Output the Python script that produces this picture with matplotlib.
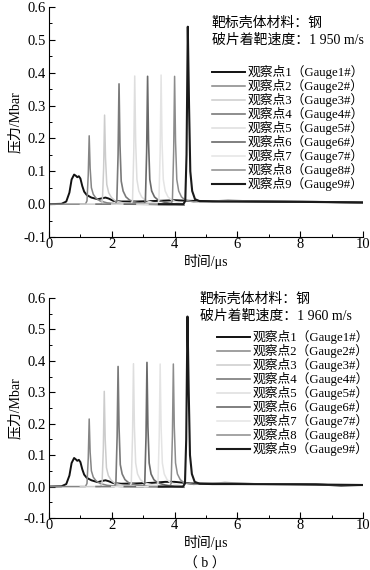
import numpy as np
import matplotlib
matplotlib.use("Agg")
import matplotlib.pyplot as plt
from matplotlib.ticker import MultipleLocator

plt.rcParams['font.family'] = ['Liberation Serif', 'Noto Sans CJK SC']
plt.rcParams['axes.unicode_minus'] = True

# ---------------- data ----------------
# panel (a): v = 1950 m/s
t1_a = [0, 0.4, 0.55, 0.65, 0.72, 0.80, 0.86, 0.90, 0.95, 1.00, 1.06, 1.12, 1.2, 1.35, 1.55, 1.7, 1.8, 1.9, 2.05, 2.3, 2.8, 3.5, 4.0, 4.5, 5.5, 7.0, 8.5, 10]
p1_a = [0, 0.001, 0.008, 0.035, 0.075, 0.09, 0.086, 0.082, 0.085, 0.078, 0.055, 0.038, 0.028, 0.02, 0.015, 0.018, 0.02, 0.017, 0.01, 0.008, 0.008, 0.01, 0.012, 0.01, 0.009, 0.008, 0.007, 0.005]
t2_a = [0, 1.16, 1.21, 1.25, 1.28, 1.31, 1.35, 1.41, 1.50, 1.62, 1.85, 2.3, 4.3]
p2_a = [0, 0, 0.01, 0.09, 0.208, 0.11, 0.05, 0.03, 0.018, 0.01, 0.004, 0.0, -0.002]
t3_a = [1.0, 1.65, 1.70, 1.74, 1.77, 1.80, 1.84, 1.90, 1.99, 2.11, 2.35, 2.8, 4.3]
p3_a = [0, 0, 0.01, 0.11, 0.271, 0.14, 0.06, 0.035, 0.02, 0.01, 0.004, 0.0, -0.002]
t4_a = [1.5, 2.11, 2.16, 2.20, 2.23, 2.26, 2.30, 2.36, 2.45, 2.57, 2.8, 3.2, 4.3]
p4_a = [0, 0, 0.01, 0.15, 0.366, 0.18, 0.07, 0.04, 0.022, 0.012, 0.005, 0.0, -0.002]
t5_a = [2.0, 2.61, 2.66, 2.70, 2.73, 2.76, 2.80, 2.86, 2.95, 3.07, 3.3, 3.7, 4.3]
p5_a = [0, 0, 0.01, 0.16, 0.39, 0.19, 0.075, 0.04, 0.022, 0.012, 0.005, 0.0, -0.002]
t6_a = [2.4, 3.02, 3.07, 3.11, 3.14, 3.17, 3.21, 3.27, 3.36, 3.48, 3.7, 4.0, 4.3]
p6_a = [0, 0, 0.01, 0.16, 0.389, 0.19, 0.075, 0.04, 0.022, 0.012, 0.005, 0.0, -0.002]
t7_a = [2.8, 3.45, 3.50, 3.54, 3.57, 3.60, 3.64, 3.70, 3.79, 3.91, 4.1, 4.3]
p7_a = [0, 0, 0.01, 0.16, 0.393, 0.19, 0.075, 0.04, 0.022, 0.012, 0.005, 0.0]
t8_a = [3.2, 3.88, 3.93, 3.97, 4.00, 4.03, 4.07, 4.13, 4.22, 4.34, 4.6, 5.2, 5.7, 6.5, 8.0, 10]
p8_a = [0, 0, 0.01, 0.16, 0.389, 0.19, 0.075, 0.04, 0.022, 0.012, 0.007, 0.009, 0.012, 0.009, 0.007, 0.004]
t9_a = [3.5, 4.28, 4.34, 4.38, 4.42, 4.46, 4.50, 4.56, 4.65, 4.8, 5.2, 6.0, 8.0, 10]
p9_a = [0, 0, 0.01, 0.15, 0.54, 0.3, 0.1, 0.04, 0.015, 0.009, 0.008, 0.008, 0.007, 0.005]

# panel (b): v = 1960 m/s
t1_b = [0, 0.4, 0.55, 0.65, 0.72, 0.80, 0.86, 0.90, 0.95, 1.00, 1.06, 1.12, 1.2, 1.35, 1.55, 1.7, 1.8, 1.9, 2.05, 2.3, 2.8, 3.3, 3.7, 4.0, 4.5, 5.5, 7.0, 8.5, 9.3, 10]
p1_b = [0, 0.001, 0.008, 0.035, 0.075, 0.091, 0.086, 0.082, 0.085, 0.078, 0.055, 0.038, 0.028, 0.02, 0.014, 0.018, 0.02, 0.017, 0.011, 0.009, 0.01, 0.012, 0.015, 0.015, 0.01, 0.009, 0.008, 0.007, 0.003, 0.005]
t2_b = [0, 1.16, 1.21, 1.25, 1.28, 1.31, 1.35, 1.41, 1.50, 1.62, 1.85, 2.3, 4.3]
p2_b = [0, 0, 0.01, 0.09, 0.215, 0.11, 0.05, 0.03, 0.018, 0.01, 0.004, 0.0, -0.002]
t3_b = [1.0, 1.64, 1.69, 1.73, 1.76, 1.79, 1.83, 1.89, 1.98, 2.10, 2.35, 2.8, 4.3]
p3_b = [0, 0, 0.01, 0.12, 0.303, 0.15, 0.06, 0.035, 0.02, 0.01, 0.004, 0.0, -0.002]
t4_b = [1.5, 2.08, 2.13, 2.17, 2.20, 2.23, 2.27, 2.33, 2.42, 2.54, 2.8, 3.2, 4.3]
p4_b = [0, 0, 0.01, 0.16, 0.382, 0.19, 0.07, 0.04, 0.022, 0.012, 0.005, 0.0, -0.002]
t5_b = [2.0, 2.57, 2.62, 2.66, 2.69, 2.72, 2.76, 2.82, 2.91, 3.03, 3.3, 3.7, 4.3]
p5_b = [0, 0, 0.01, 0.16, 0.391, 0.19, 0.075, 0.04, 0.022, 0.012, 0.005, 0.0, -0.002]
t6_b = [2.4, 3.00, 3.05, 3.09, 3.12, 3.15, 3.19, 3.25, 3.34, 3.46, 3.7, 4.0, 4.3]
p6_b = [0, 0, 0.01, 0.16, 0.395, 0.19, 0.075, 0.04, 0.022, 0.012, 0.005, 0.0, -0.002]
t7_b = [2.8, 3.42, 3.47, 3.51, 3.54, 3.57, 3.61, 3.67, 3.76, 3.88, 4.1, 4.3]
p7_b = [0, 0, 0.01, 0.16, 0.39, 0.19, 0.075, 0.04, 0.022, 0.012, 0.005, 0.0]
t8_b = [3.2, 3.84, 3.89, 3.93, 3.96, 3.99, 4.03, 4.09, 4.18, 4.30, 4.6, 5.2, 5.6, 6.5, 8.0, 10]
p8_b = [0, 0, 0.01, 0.16, 0.39, 0.19, 0.075, 0.04, 0.022, 0.012, 0.007, 0.01, 0.013, 0.009, 0.007, 0.004]
t9_b = [3.5, 4.27, 4.33, 4.37, 4.41, 4.45, 4.49, 4.55, 4.64, 4.8, 5.2, 6.0, 8.0, 10]
p9_b = [0, 0, 0.01, 0.15, 0.541, 0.3, 0.1, 0.04, 0.015, 0.009, 0.008, 0.008, 0.007, 0.005]

labels = ["观察点%d（Gauge%d#）" % (i, i) for i in range(1, 10)]
colors = ["#111111", "#858585", "#cccccc", "#7a7a7a", "#dedede", "#6a6a6a", "#e4e4e4", "#8c8c8c", "#1a1a1a"]
widths = [1.4, 1.1, 1.1, 1.2, 1.1, 1.2, 1.1, 1.1, 1.5]

curves_a = [(t1_a, p1_a), (t2_a, p2_a), (t3_a, p3_a), (t4_a, p4_a), (t5_a, p5_a),
            (t6_a, p6_a), (t7_a, p7_a), (t8_a, p8_a), (t9_a, p9_a)]
curves_b = [(t1_b, p1_b), (t2_b, p2_b), (t3_b, p3_b), (t4_b, p4_b), (t5_b, p5_b),
            (t6_b, p6_b), (t7_b, p7_b), (t8_b, p8_b), (t9_b, p9_b)]

W, H = 370, 570
fig = plt.figure(figsize=(W / 100, H / 100), dpi=100)

def fx(px):
    return px / W

def fy(py):
    return 1 - py / H

ax1 = fig.add_axes([fx(49), fy(237), fx(363 - 49), (237 - 7) / H])
ax2 = fig.add_axes([fx(49), fy(518), fx(363 - 49), (518 - 298) / H])

def style(ax):
    ax.set_xlim(0, 10)
    ax.set_ylim(-0.1, 0.6)
    ax.spines['top'].set_visible(False)
    ax.spines['right'].set_visible(False)
    ax.xaxis.set_major_locator(MultipleLocator(2))
    ax.xaxis.set_minor_locator(MultipleLocator(1))
    ax.yaxis.set_major_locator(MultipleLocator(0.1))
    ax.yaxis.set_minor_locator(MultipleLocator(0.05))
    ax.yaxis.set_major_formatter(plt.FormatStrFormatter('%.1f'))
    ax.tick_params(which='both', direction='in', labelsize=10.5)
    ax.tick_params(which='major', length=4.5, width=0.8)
    ax.tick_params(which='minor', length=2.5, width=0.7)
    ax.tick_params(axis='x', pad=1)
    ax.tick_params(axis='y', pad=2)
    ax.set_xlabel("时间/μs", fontsize=10, labelpad=2)
    ax.set_ylabel("压力/Mbar", fontsize=10, labelpad=1)

for ax, curves, vtxt, legpos, txtpos in [
        (ax1, curves_a, "1 950 m/s", (212, 72), (212, 23)),
        (ax2, curves_b, "1 960 m/s", (217, 337), (200, 299))]:
    for (t, p), c, lw, lab in zip(curves, colors, widths, labels):
        ax.plot(t, p, color=c, lw=lw, label=lab)
    style(ax)
    fig.text(fx(txtpos[0]), fy(txtpos[1]), "靶标壳体材料：钢", fontsize=10, va='center', ha='left')
    fig.text(fx(txtpos[0]), fy(txtpos[1] + 17), "破片着靶速度：" + vtxt, fontsize=10, va='center', ha='left')
    leg = ax.legend(loc='upper left', bbox_to_anchor=(fx(legpos[0]), fy(legpos[1] - 7)),
                    bbox_transform=fig.transFigure, frameon=False, fontsize=9.2,
                    borderpad=0, borderaxespad=0, handlelength=2.6, handletextpad=0.15,
                    labelspacing=0.0)

fig.text(fx(205), fy(564), "（ b ）", fontsize=10, ha='center', va='center')

fig.savefig("out.png", dpi=100)
